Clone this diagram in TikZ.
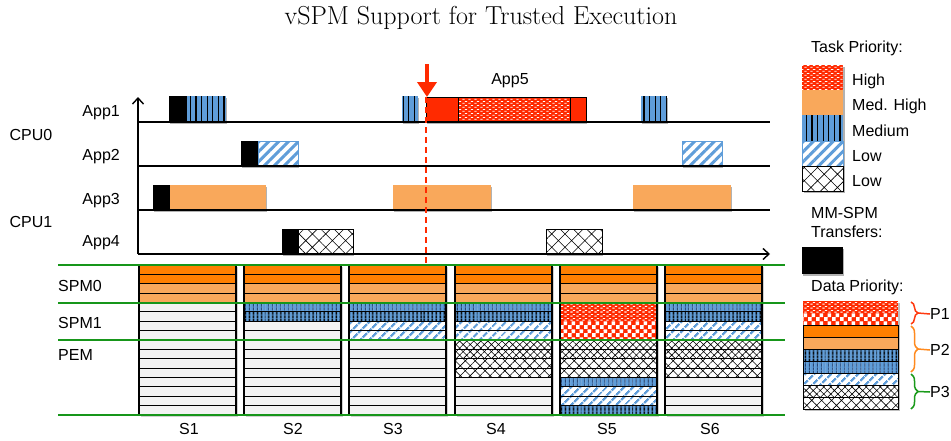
\documentclass[tikz,border=0pt]{standalone}
\usepackage{fontspec}
\newfontfamily\labfont{Liberation Sans}
\usetikzlibrary{arrows.meta,patterns,patterns.meta,shadows,decorations.pathreplacing}

\definecolor{tred}{HTML}{FF2A00}
\definecolor{torange}{HTML}{F9A85B}
\definecolor{dorange}{HTML}{FF7F00}
\definecolor{tblue}{HTML}{5F9DD9}
\definecolor{navy}{HTML}{1F3A66}
\definecolor{pgray}{HTML}{F3F3F3}
\definecolor{lgreen}{HTML}{17961A}
\definecolor{bred}{HTML}{FF3A10}
\definecolor{borange}{HTML}{FF8A1E}
\definecolor{bgreen}{HTML}{1A9A1A}

% short white dashes laid in brick rows (high priority fill)
\pgfdeclarepatternformonly{whitedash}{\pgfqpoint{0pt}{0pt}}{\pgfqpoint{6pt}{4pt}}{\pgfqpoint{6pt}{4pt}}{%
  \pgfpathrectangle{\pgfqpoint{0.4pt}{0.5pt}}{\pgfqpoint{2.6pt}{1pt}}%
  \pgfpathrectangle{\pgfqpoint{3.4pt}{2.5pt}}{\pgfqpoint{2.6pt}{1pt}}%
  \pgfusepath{fill}}
% checkerboard squares
\pgfdeclarepatternformonly{checks}{\pgfqpoint{0pt}{0pt}}{\pgfqpoint{8pt}{8pt}}{\pgfqpoint{8pt}{8pt}}{%
  \pgfpathrectangle{\pgfqpoint{0pt}{0pt}}{\pgfqpoint{4pt}{4pt}}%
  \pgfpathrectangle{\pgfqpoint{4pt}{4pt}}{\pgfqpoint{4pt}{4pt}}%
  \pgfusepath{fill}}

% one memory column: #1 left edge, #2 list of 16 row styles (top to bottom)
\newcommand\memcolumn[2]{%
  \fill[black,opacity=.18] (#1+1.5,266.5) rectangle ++(97,150);
  \foreach \st [count=\i from 0] in {#2} {
    \path[\st] (#1,265+\i*9.375) rectangle ++(97,9.375);
  }
  \draw[line width=1.2pt] (#1,265) rectangle ++(97,150);
}

\begin{document}
\begin{tikzpicture}[x=1pt,y=-1pt,
  lab/.style={font=\labfont\fontsize{16}{19}\selectfont, inner sep=0pt},
  shad/.style={drop shadow={shadow xshift=1.2pt,shadow yshift=-1.5pt,opacity=0.3,fill=black}},
  xfer/.style={shad, fill=black},
  tHigh/.style={shad, preaction={fill=tred}, pattern=whitedash, pattern color=white, draw=black, line width=1pt},
  tRed/.style={shad, fill=tred, draw=black, line width=1pt},
  tMedHigh/.style={shad, fill=torange},
  tMed/.style={shad, preaction={fill=tblue}, pattern={Lines[angle=90,distance=5.6pt,line width=1.2pt]}, pattern color=black},
  tLow/.style={shad, preaction={fill=white}, pattern={Lines[angle=45,distance=7pt,line width=3pt]}, pattern color=tblue, draw=tblue, line width=0.8pt},
  tLowX/.style={shad, preaction={fill=white}, pattern={Hatch[angle=45,distance=9.4pt,line width=0.6pt]}, pattern color=black, draw=black, line width=0.9pt},
  cell/.style={draw=black, line width=0.8pt},
  mDark/.style={cell, fill=dorange},
  mLight/.style={cell, fill=torange},
  mGray/.style={cell, fill=pgray},
  mBlueA/.style={cell, preaction={fill=tblue}, pattern={Lines[angle=90,distance=4pt,line width=1pt]}, pattern color=navy},
  mBlueB/.style={cell, preaction={fill=tblue}, pattern={Lines[angle=90,distance=4pt,line width=1.8pt]}, pattern color=black},
  mDiag/.style={cell, preaction={fill=white}, pattern={Lines[angle=45,distance=6.5pt,line width=2.6pt]}, pattern color=tblue},
  mFine/.style={cell, preaction={fill=white}, pattern={Hatch[angle=45,distance=5pt,line width=0.6pt]}, pattern color=black},
  mCoarse/.style={cell, preaction={fill=white}, pattern={Hatch[angle=45,distance=7pt,line width=0.6pt]}, pattern color=black},
  mRed/.style={preaction={fill=tred}, pattern=whitedash, pattern color=white},
  mCheck/.style={preaction={fill=tred}, pattern=checks, pattern color=white},
  axis/.style={line width=1.2pt},
  grline/.style={lgreen, line width=1.5pt},
  bracestyle/.style={line width=1.5pt, decorate, decoration={brace, amplitude=7pt}},
]
\useasboundingbox (0,0) rectangle (951,440);

% title
\node (title) at (481,18) {\fontsize{26}{30}\selectfont vSPM Support for Trusted Execution};

% ---------------- task timeline ----------------
\node[lab, anchor=east] (app1) at (120,113) {App1};
\node[lab, anchor=east] (app2) at (120,157) {App2};
\node[lab, anchor=east] (app3) at (120,201) {App3};
\node[lab, anchor=east] (app4) at (120,243) {App4};
\node[lab] (cpu0) at (31,135) {CPU0};
\node[lab] (cpu1) at (31,222) {CPU1};
\node[lab] (app5) at (510,81) {App5};

% App1
\path[xfer] (169,96) rectangle (187,122);
\path[tMed] (187,96) rectangle (226,122);
\path[tMed] (402,96) rectangle (418,122);
\path[tRed] (426,97) rectangle (458,122);
\path[tHigh] (458,97) rectangle (570,122);
\path[tRed] (570,97) rectangle (586,122);
\path[tMed] (641,96) rectangle (667,122);
% App2
\path[xfer] (241,141) rectangle (258,166);
\path[tLow] (258,141) rectangle (298,166);
\path[tLow] (682,141) rectangle (722,166);
% App3
\path[xfer] (153,185) rectangle (170,210);
\path[tMedHigh] (170,185) rectangle (266,210);
\path[tMedHigh] (393,185) rectangle (491,210);
\path[tMedHigh] (633,185) rectangle (731,210);
% App4
\path[xfer] (282,229) rectangle (298,254);
\path[tLowX] (298,229) rectangle (353,254);
\path[tLowX] (546,229) rectangle (602,254);

% axes and baselines
\coordinate (origin) at (138,254);
\coordinate (ytop) at (138,97);
\coordinate (xend) at (770,254);
\draw[axis, -{Straight Barb[length=6pt,width=11pt,line width=1.4pt]}] (origin) -- (ytop);
\draw[axis, -{Straight Barb[length=6pt,width=11pt,line width=1.4pt]}] (origin) -- (xend);
\foreach \yy/\nm in {122/a, 166/b, 210/c} {
  \coordinate (base\nm0) at (138,\yy);
  \coordinate (base\nm1) at (770,\yy);
  \draw[axis] (base\nm0) -- (base\nm1);
}

% trigger marker
\coordinate (arrowTop) at (427,64);
\coordinate (arrowTip) at (427,97);
\coordinate (dashTop) at (426,97);
\coordinate (dashBot) at (426,263);
\draw[tred, line width=1.6pt, dash pattern=on 6pt off 4pt] (dashTop) -- (dashBot);
\draw[tred, line width=4.5pt, -{Triangle[length=15pt,width=19pt]}] (arrowTop) -- (arrowTip);

% ---------------- memory layout ----------------
\memcolumn{139}{mDark,mDark,mLight,mLight,mGray,mGray,mGray,mGray,mGray,mGray,mGray,mGray,mGray,mGray,mGray,mGray}
\memcolumn{244}{mDark,mDark,mLight,mLight,mBlueA,mBlueB,mGray,mGray,mGray,mGray,mGray,mGray,mGray,mGray,mGray,mGray}
\memcolumn{349}{mDark,mDark,mLight,mLight,mBlueA,mBlueB,mDiag,mDiag,mGray,mGray,mGray,mGray,mGray,mGray,mGray,mGray}
\memcolumn{455}{mDark,mDark,mLight,mLight,mBlueA,mBlueB,mDiag,mDiag,mFine,mFine,mCoarse,mCoarse,mGray,mGray,mGray,mGray}
\memcolumn{560}{mDark,mDark,mLight,mLight,mRed,mRed,mCheck,mCheck,mFine,mFine,mCoarse,mCoarse,mBlueA,mDiag,mDiag,mBlueB}
\memcolumn{665}{mDark,mDark,mLight,mLight,mBlueA,mBlueB,mDiag,mDiag,mFine,mFine,mCoarse,mCoarse,mGray,mGray,mGray,mGray}

\foreach \yy/\nm in {265/a, 303/b, 340/c, 415/d} {
  \coordinate (grn\nm0) at (58,\yy);
  \coordinate (grn\nm1) at (785,\yy);
  \draw[grline] (grn\nm0) -- (grn\nm1);
}

\node[lab, anchor=west] (spm0) at (58,286) {SPM0};
\node[lab, anchor=west] (spm1) at (58,323) {SPM1};
\node[lab, anchor=west] (pem) at (58,355) {PEM};

\node[lab] (s1) at (189,429) {S1};
\node[lab] (s2) at (293,429) {S2};
\node[lab] (s3) at (393,429) {S3};
\node[lab] (s4) at (496,429) {S4};
\node[lab] (s5) at (607,429) {S5};
\node[lab] (s6) at (710,429) {S6};

% ---------------- legends ----------------
\node[lab, anchor=west] (tpri) at (811,48) {Task Priority:};
\fill[black,opacity=.3] (803.5,66.5) rectangle (844.5,192.5);
\path[preaction={fill=tred}, pattern=whitedash, pattern color=white] (802,65) rectangle (843,90);
\path[fill=torange] (802,90) rectangle (843,115);
\path[preaction={fill=tblue}, pattern={Lines[angle=90,distance=5.6pt,line width=1.2pt]}, pattern color=black] (802,115) rectangle (843,141);
\path[preaction={fill=white}, pattern={Lines[angle=45,distance=7pt,line width=3pt]}, pattern color=tblue, draw=tblue, line width=0.8pt] (802,141) rectangle (843,166);
\path[preaction={fill=white}, pattern={Hatch[angle=45,distance=9.4pt,line width=0.6pt]}, pattern color=black, draw=black, line width=1pt] (802,166) rectangle (843,191);
\node[lab, anchor=west] (lgHigh) at (852,81) {High};
\node[lab, anchor=west] (lgMedHigh) at (852,106) {Med. High};
\node[lab, anchor=west] (lgMed) at (852,131) {Medium};
\node[lab, anchor=west] (lgLow) at (852,156) {Low};
\node[lab, anchor=west] (lgLowX) at (852,181) {Low};

\node[lab, anchor=west] (mmspm) at (811,213) {MM-SPM};
\node[lab, anchor=west] (transf) at (811,232) {Transfers:};
\path[xfer] (802,247) rectangle (843,274);

\node[lab, anchor=west] (dpri) at (811,287) {Data Priority:};
\fill[black,opacity=.25] (804.5,302.5) rectangle (899.5,410.5);
\foreach \st [count=\i from 0] in {mRed,mCheck,mDark,mLight,mBlueB,mBlueA,mDiag,mFine,mCoarse} {
  \path[\st] (803,301+\i*12) rectangle ++(95,12);
}

% priority classes
\coordinate (p1a) at (911,302);
\coordinate (p1b) at (911,324);
\coordinate (p2a) at (911,326);
\coordinate (p2b) at (911,372);
\coordinate (p3a) at (911,374);
\coordinate (p3b) at (911,409);
\node[lab, anchor=west] (p1) at (930,314) {P1};
\node[lab, anchor=west] (p2) at (930,350) {P2};
\node[lab, anchor=west] (p3) at (930,392) {P3};
\draw[bred, bracestyle] (p1a) -- (p1b);
\draw[borange, bracestyle] (p2a) -- (p2b);
\draw[bgreen, bracestyle] (p3a) -- (p3b);
\draw[bred, line width=1.5pt] (918,313) -- (p1.west);
\draw[borange, line width=1.5pt] (918,349) -- (p2.west);
\draw[bgreen, line width=1.5pt] (918,391.5) -- (p3.west);
\end{tikzpicture}
\end{document}
